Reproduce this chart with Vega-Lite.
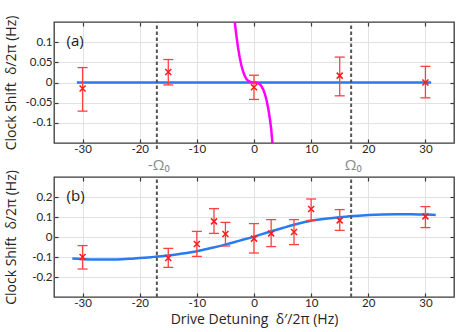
{
  "$schema": "https://vega.github.io/schema/vega-lite/v6.json",
  "background": "white",
  "padding": {"left": 3, "top": 14, "right": 19, "bottom": 4},
  "spacing": 34,
  "bounds": "flush",
  "config": {
    "font": "Lato",
    "view": {"stroke": "#3a3a3a", "strokeWidth": 1.3},
    "axis": {
      "domain": false,
      "gridColor": "#e2e2e2",
      "gridWidth": 1,
      "tickColor": "#3a3a3a",
      "tickSize": -4,
      "tickWidth": 1.2,
      "labelFont": "Lato",
      "labelFontSize": 11.5,
      "labelColor": "#262626",
      "titleFont": "Open Sans",
      "titleFontSize": 14,
      "titleFontWeight": "normal",
      "titleColor": "#262626"
    }
  },
  "datasets": {
    "omega": [
      {"x": -17, "label": "-Ω₀"},
      {"x": 17, "label": "Ω₀"}
    ],
    "a_pts": [
      {"x": -30, "y": -0.015, "lo": -0.071, "hi": 0.037},
      {"x": -15, "y": 0.026, "lo": -0.006, "hi": 0.057},
      {"x": 0, "y": -0.012, "lo": -0.042, "hi": 0.018},
      {"x": 15, "y": 0.017, "lo": -0.033, "hi": 0.063},
      {"x": 30, "y": 0.0, "lo": -0.038, "hi": 0.04}
    ],
    "a_fit": [
      {"x": -31, "y": 0},
      {"x": 31, "y": 0}
    ],
    "a_mag": [
      {"x": -3.37, "y": 0.15},
      {"x": -3.1, "y": 0.118},
      {"x": -2.8, "y": 0.087},
      {"x": -2.5, "y": 0.062},
      {"x": -2.2, "y": 0.042},
      {"x": -1.9, "y": 0.027},
      {"x": -1.6, "y": 0.016},
      {"x": -1.3, "y": 0.008},
      {"x": -1.0, "y": 0.004},
      {"x": -0.6, "y": 0.001},
      {"x": -0.2, "y": 0.0},
      {"x": 0.2, "y": 0.0},
      {"x": 0.6, "y": -0.001},
      {"x": 1.0, "y": -0.004},
      {"x": 1.3, "y": -0.009},
      {"x": 1.6, "y": -0.017},
      {"x": 1.9, "y": -0.028},
      {"x": 2.2, "y": -0.044},
      {"x": 2.5, "y": -0.065},
      {"x": 2.8, "y": -0.092},
      {"x": 3.0, "y": -0.114},
      {"x": 3.22, "y": -0.15}
    ],
    "b_pts": [
      {"x": -30, "y": -0.1, "lo": -0.16, "hi": -0.043},
      {"x": -15, "y": -0.105, "lo": -0.152, "hi": -0.057},
      {"x": -10, "y": -0.035, "lo": -0.097, "hi": 0.028},
      {"x": -7, "y": 0.078, "lo": 0.018, "hi": 0.142},
      {"x": -5, "y": 0.015, "lo": -0.045, "hi": 0.073},
      {"x": 0, "y": -0.008, "lo": -0.08, "hi": 0.067},
      {"x": 3, "y": 0.018, "lo": -0.048, "hi": 0.087},
      {"x": 7, "y": 0.025, "lo": -0.038, "hi": 0.087},
      {"x": 10, "y": 0.14, "lo": 0.083, "hi": 0.19},
      {"x": 15, "y": 0.083, "lo": 0.033, "hi": 0.137},
      {"x": 30, "y": 0.103, "lo": 0.047, "hi": 0.152}
    ],
    "b_fit": [
      {"x": -31.8, "y": -0.108},
      {"x": -30, "y": -0.111},
      {"x": -27, "y": -0.113},
      {"x": -24, "y": -0.112},
      {"x": -21, "y": -0.107},
      {"x": -18, "y": -0.101},
      {"x": -15, "y": -0.093},
      {"x": -12.5, "y": -0.083},
      {"x": -10, "y": -0.071},
      {"x": -7.5, "y": -0.055},
      {"x": -5, "y": -0.038},
      {"x": -2.5, "y": -0.018},
      {"x": 0, "y": 0.002},
      {"x": 2.5, "y": 0.024},
      {"x": 5, "y": 0.045},
      {"x": 7.5, "y": 0.065},
      {"x": 10, "y": 0.081},
      {"x": 12.5, "y": 0.091},
      {"x": 15, "y": 0.099},
      {"x": 17.5, "y": 0.105},
      {"x": 20, "y": 0.11},
      {"x": 22.5, "y": 0.113},
      {"x": 25, "y": 0.114},
      {"x": 27.5, "y": 0.114},
      {"x": 30, "y": 0.112},
      {"x": 31.8, "y": 0.11}
    ],
    "tag_a": [{"label": "(a)"}],
    "tag_b": [{"label": "(b)"}]
  },
  "vconcat": [
    {
      "width": 400,
      "height": 121,
      "resolve": {"axis": {"x": "independent", "y": "independent"}},
      "layer": [
        {
          "data": {"name": "a_fit"},
          "mark": {"type": "line", "color": "#2a7af0", "strokeWidth": 2.5},
          "encoding": {
            "x": {"field": "x", "type": "quantitative", "scale": {"domain": [-35, 35], "nice": false, "zero": false},
              "axis": {"orient": "bottom", "values": [-30, -20, -10, 0, 10, 20, 30], "grid": true, "title": null, "labelPadding": 4, "labelExpr": "'' + datum.value"}},
            "y": {"field": "y", "type": "quantitative", "scale": {"domain": [-0.15, 0.15], "nice": false, "zero": false},
              "axis": {"orient": "left", "values": [-0.1, -0.05, 0, 0.05, 0.1], "grid": true, "title": "Clock Shift\u00a0 δ/2π (Hz)", "labelPadding": 6, "minExtent": 34, "maxExtent": 34, "titlePadding": 2, "labelExpr": "'' + datum.value"}}
          }
        },
        {
          "data": {"name": "omega"},
          "mark": {"type": "rule", "color": "#555555", "strokeWidth": 2, "strokeDash": [3.5, 2.5], "clip": false},
          "encoding": {
            "x": {"field": "x", "type": "quantitative",
              "axis": {"orient": "top", "values": [-30, -20, -10, 0, 10, 20, 30], "grid": false, "labels": false, "title": null}},
            "y": {"datum": -0.165, "type": "quantitative",
              "axis": {"orient": "right", "values": [-0.1, -0.05, 0, 0.05, 0.1], "grid": false, "labels": false, "title": null}},
            "y2": {"datum": 0.15}
          }
        },
        {
          "data": {"name": "omega"},
          "mark": {"type": "text", "color": "#8a8a8a", "fontSize": 15, "font": "Open Sans", "align": "center", "baseline": "middle", "dx": 2, "clip": false},
          "encoding": {
            "x": {"field": "x", "type": "quantitative", "axis": null},
            "y": {"datum": -0.205, "type": "quantitative", "axis": null},
            "text": {"field": "label"}
          }
        },
        {
          "data": {"name": "a_mag"},
          "mark": {"type": "line", "color": "#ff00ff", "strokeWidth": 2.5, "clip": true},
          "encoding": {
            "x": {"field": "x", "type": "quantitative", "axis": null},
            "y": {"field": "y", "type": "quantitative", "axis": null}
          }
        },
        {
          "data": {"name": "a_pts"},
          "mark": {"type": "rule", "color": "#ff4040", "strokeWidth": 1.3},
          "encoding": {
            "x": {"field": "x", "type": "quantitative", "axis": null},
            "y": {"field": "lo", "type": "quantitative", "axis": null},
            "y2": {"field": "hi"}
          }
        },
        {
          "data": {"name": "a_pts"},
          "mark": {"type": "point", "shape": "stroke", "size": 100, "color": "#ff4040", "strokeWidth": 1.3, "opacity": 1},
          "encoding": {
            "x": {"field": "x", "type": "quantitative", "axis": null},
            "y": {"field": "lo", "type": "quantitative", "axis": null}
          }
        },
        {
          "data": {"name": "a_pts"},
          "mark": {"type": "point", "shape": "stroke", "size": 100, "color": "#ff4040", "strokeWidth": 1.3, "opacity": 1},
          "encoding": {
            "x": {"field": "x", "type": "quantitative", "axis": null},
            "y": {"field": "hi", "type": "quantitative", "axis": null}
          }
        },
        {
          "data": {"name": "a_pts"},
          "mark": {"type": "point", "shape": "M-1,-1L1,1M1,-1L-1,1", "size": 36, "color": "#ff1a1a", "strokeWidth": 1.5, "filled": false, "opacity": 1},
          "encoding": {
            "x": {"field": "x", "type": "quantitative", "axis": null},
            "y": {"field": "y", "type": "quantitative", "axis": null}
          }
        },
        {
          "data": {"name": "tag_a"},
          "mark": {"type": "text", "fontSize": 15, "font": "Open Sans", "align": "left", "baseline": "middle", "color": "#1a1a1a"},
          "encoding": {
            "x": {"datum": -32.8, "type": "quantitative", "axis": null},
            "y": {"datum": 0.1025, "type": "quantitative", "axis": null},
            "text": {"field": "label"}
          }
        }
      ]
    },
    {
      "width": 400,
      "height": 120,
      "resolve": {"axis": {"x": "independent", "y": "independent"}},
      "layer": [
        {
          "data": {"name": "b_fit"},
          "mark": {"type": "line", "color": "#2a7af0", "strokeWidth": 2.5, "interpolate": "monotone"},
          "encoding": {
            "x": {"field": "x", "type": "quantitative", "scale": {"domain": [-35, 35], "nice": false, "zero": false},
              "axis": {"orient": "bottom", "values": [-30, -20, -10, 0, 10, 20, 30], "grid": true, "title": "Drive Detuning\u00a0 δ′/2π (Hz)", "labelPadding": 4, "titlePadding": 4, "labelExpr": "'' + datum.value"}},
            "y": {"field": "y", "type": "quantitative", "scale": {"domain": [-0.3, 0.3], "nice": false, "zero": false},
              "axis": {"orient": "left", "values": [-0.2, -0.1, 0, 0.1, 0.2], "grid": true, "title": "Clock Shift\u00a0 δ/2π (Hz)", "labelPadding": 6, "minExtent": 34, "maxExtent": 34, "titlePadding": 2, "labelExpr": "'' + datum.value"}}
          }
        },
        {
          "data": {"name": "omega"},
          "mark": {"type": "rule", "color": "#555555", "strokeWidth": 2, "strokeDash": [3.5, 2.5]},
          "encoding": {
            "x": {"field": "x", "type": "quantitative",
              "axis": {"orient": "top", "values": [-30, -20, -10, 0, 10, 20, 30], "grid": false, "labels": false, "title": null}},
            "y": {"datum": -0.3, "type": "quantitative",
              "axis": {"orient": "right", "values": [-0.2, -0.1, 0, 0.1, 0.2], "grid": false, "labels": false, "title": null}},
            "y2": {"datum": 0.3}
          }
        },
        {
          "data": {"name": "b_pts"},
          "mark": {"type": "rule", "color": "#ff4040", "strokeWidth": 1.3},
          "encoding": {
            "x": {"field": "x", "type": "quantitative", "axis": null},
            "y": {"field": "lo", "type": "quantitative", "axis": null},
            "y2": {"field": "hi"}
          }
        },
        {
          "data": {"name": "b_pts"},
          "mark": {"type": "point", "shape": "stroke", "size": 100, "color": "#ff4040", "strokeWidth": 1.3, "opacity": 1},
          "encoding": {
            "x": {"field": "x", "type": "quantitative", "axis": null},
            "y": {"field": "lo", "type": "quantitative", "axis": null}
          }
        },
        {
          "data": {"name": "b_pts"},
          "mark": {"type": "point", "shape": "stroke", "size": 100, "color": "#ff4040", "strokeWidth": 1.3, "opacity": 1},
          "encoding": {
            "x": {"field": "x", "type": "quantitative", "axis": null},
            "y": {"field": "hi", "type": "quantitative", "axis": null}
          }
        },
        {
          "data": {"name": "b_pts"},
          "mark": {"type": "point", "shape": "M-1,-1L1,1M1,-1L-1,1", "size": 36, "color": "#ff1a1a", "strokeWidth": 1.5, "filled": false, "opacity": 1},
          "encoding": {
            "x": {"field": "x", "type": "quantitative", "axis": null},
            "y": {"field": "y", "type": "quantitative", "axis": null}
          }
        },
        {
          "data": {"name": "tag_b"},
          "mark": {"type": "text", "fontSize": 15, "font": "Open Sans", "align": "left", "baseline": "middle", "color": "#1a1a1a"},
          "encoding": {
            "x": {"datum": -32.8, "type": "quantitative", "axis": null},
            "y": {"datum": 0.2075, "type": "quantitative", "axis": null},
            "text": {"field": "label"}
          }
        }
      ]
    }
  ]
}
